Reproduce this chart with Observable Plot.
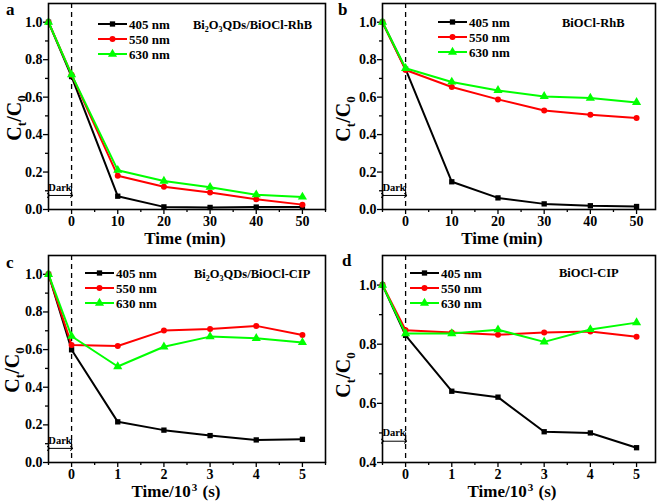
<!DOCTYPE html>
<html><head><meta charset="utf-8">
<script src="https://cdn.jsdelivr.net/npm/d3@7"></script>
<script src="https://cdn.jsdelivr.net/npm/@observablehq/plot@0.6"></script>
<style>
body{margin:0;background:#fff;}
#root{position:relative;width:661px;height:502px;overflow:hidden;background:#fff;}
.panel{position:absolute;}
</style></head><body><div id="root"></div>
<script>
// ---- data ----
const timeMin = [-5, 0, 10, 20, 30, 40, 50];
const timeKs = [-0.5, 0, 1, 2, 3, 4, 5];
const seriesNames = ["405 nm", "550 nm", "630 nm"];
const seriesColors = ["#000000", "#ff0000", "#00ff00"];
const seriesSymbols = ["square", "circle", "triangle"];

const a405 = [1.0, 0.71, 0.071, 0.014, 0.011, 0.013, 0.013];
const a550 = [1.0, 0.72, 0.18, 0.121, 0.091, 0.055, 0.026];
const a630 = [1.0, 0.72, 0.21, 0.152, 0.119, 0.079, 0.067];

const b405 = [1.0, 0.749, 0.148, 0.062, 0.03, 0.02, 0.016];
const b550 = [1.0, 0.745, 0.654, 0.588, 0.529, 0.506, 0.488];
const b630 = [1.0, 0.754, 0.681, 0.636, 0.604, 0.595, 0.572];

const c405 = [1.0, 0.599, 0.216, 0.172, 0.143, 0.12, 0.123];
const c550 = [1.0, 0.624, 0.619, 0.701, 0.71, 0.726, 0.678];
const c630 = [1.0, 0.671, 0.51, 0.615, 0.669, 0.66, 0.638];

const d405 = [1.0, 0.83, 0.641, 0.621, 0.504, 0.5, 0.45];
const d550 = [1.0, 0.847, 0.84, 0.832, 0.84, 0.843, 0.825];
const d630 = [1.0, 0.836, 0.836, 0.849, 0.808, 0.85, 0.873];

const ticksMinMajor = [0, 10, 20, 30, 40, 50];
const ticksMinMinor = [-5, 5, 15, 25, 35, 45, 55];
const ticksKsMajor = [0, 1, 2, 3, 4, 5];
const ticksKsMinor = [-0.5, 0.5, 1.5, 2.5, 3.5, 4.5, 5.5];
const ticksYMajor = [0, 0.2, 0.4, 0.6, 0.8, 1.0];
const ticksYMinor = [0.1, 0.3, 0.5, 0.7, 0.9];
const ticksYMajorD = [0.4, 0.6, 0.8, 1.0];
const ticksYMinorD = [0.5, 0.7, 0.9];

const FONT = '"Liberation Serif", "Times New Roman", serif';

const panels = [
  {letter: "a", left: 0, top: 0, width: 330, height: 250, m: [3, 5, 41, 48],
   xs: timeMin, vals: [a405, a550, a630], xDomain: [-5, 55], yDomain: [0, 1.1],
   xMajor: ticksMinMajor, xMinor: ticksMinMinor, yMajor: ticksYMajor, yMinor: ticksYMinor,
   dark: {x1: -5, x2: 0, y: 0.075, yb1: 0.068, yb2: 0.12, yt: 0.118},
   title: [["Bi", 0], ["2", 1], ["O", 0], ["3", 1], ["QDs/BiOCl-RhB", 0]], titlePos: [193, 29],
   xlabel: [["Time (min)", 0]], xlabelPos: [185, 244], ylabelPos: [21, 118],
   legendPos: [98, 24], letterPos: [6, 15]},
  {letter: "b", left: 330, top: 0, width: 331, height: 250, m: [3, 6, 41, 52],
   xs: timeMin, vals: [b405, b550, b630], xDomain: [-5, 54.1], yDomain: [0, 1.1],
   xMajor: ticksMinMajor, xMinor: ticksMinMinor.filter(d => d < 54), yMajor: ticksYMajor, yMinor: ticksYMinor,
   dark: {x1: -5, x2: 0, y: 0.075, yb1: 0.068, yb2: 0.12, yt: 0.118},
   title: [["BiOCl-RhB", 0]], titlePos: [232, 27],
   xlabel: [["Time (min)", 0]], xlabelPos: [172, 244], ylabelPos: [20, 119],
   legendPos: [108, 22], letterPos: [8, 15]},
  {letter: "c", left: 0, top: 250, width: 330, height: 252, m: [5, 5, 40, 48],
   xs: timeKs, vals: [c405, c550, c630], xDomain: [-0.5, 5.5], yDomain: [0, 1.1],
   xMajor: ticksKsMajor, xMinor: ticksKsMinor, yMajor: ticksYMajor, yMinor: ticksYMinor,
   dark: {x1: -0.5, x2: 0, y: 0.075, yb1: 0.068, yb2: 0.12, yt: 0.118},
   title: [["Bi", 0], ["2", 1], ["O", 0], ["3", 1], ["QDs/BiOCl-CIP", 0]], titlePos: [194, 28],
   xlabel: [["Time/10", 0], ["3", 2], [" (s)", 0]], xlabelPos: [176, 247], ylabelPos: [19, 120],
   legendPos: [85, 23], letterPos: [6, 18]},
  {letter: "d", left: 330, top: 250, width: 331, height: 252, m: [5, 6, 40, 52],
   xs: timeKs, vals: [d405, d550, d630], xDomain: [-0.5, 5.41], yDomain: [0.4, 1.1],
   xMajor: ticksKsMajor, xMinor: ticksKsMinor.filter(d => d < 5.4), yMajor: ticksYMajorD, yMinor: ticksYMinorD,
   dark: {x1: -0.5, x2: 0, y: 0.472, yb1: 0.467, yb2: 0.5, yt: 0.502},
   title: [["BiOCl-CIP", 0]], titlePos: [229, 27],
   xlabel: [["Time/10", 0], ["3", 2], [" (s)", 0]], xlabelPos: [182, 247], ylabelPos: [20, 125],
   legendPos: [80, 23], letterPos: [12, 16]}
];

function appendRich(sel, parts, size) {
  // parts: [text, kind] kind 0 normal, 1 subscript, 2 superscript
  let shift = 0;
  let prevSup = false;
  parts.forEach(([t, k]) => {
    const target = k === 1 ? Math.round(size * 0.25) : k === 2 ? -Math.round(size * 0.35) : 0;
    const ts = sel.append("tspan").text(t).attr("dy", target - shift);
    if (k) ts.attr("font-size", Math.round(size * 0.65));
    if (k === 2 || prevSup) ts.attr("dx", 1);
    prevSup = k === 2;
    shift = target;
  });
}

const root = d3.select("#root");

panels.forEach(p => {
  const rows = [];
  p.vals.forEach((vs, s) => vs.forEach((v, i) => rows.push({x: p.xs[i], y: v, s})));
  const txt = {fontFamily: FONT, fontWeight: "bold", fill: "black"};
  const marks = [
    Plot.ruleX([0], {stroke: "black", strokeWidth: 1.3, strokeDasharray: "5,4"}),
    Plot.axisX({ticks: p.xMajor, tickSize: 5, tickPadding: 2, label: null, tickFormat: d => String(d),
      fontSize: 14, ...txt, strokeWidth: 1.3}),
    Plot.axisX({ticks: p.xMinor, tickSize: 3, label: null, tickFormat: () => "", strokeWidth: 1.3}),
    Plot.axisY({ticks: p.yMajor, tickSize: 5, tickPadding: 1, label: null, tickFormat: d3.format(".1f"),
      fontSize: 14, ...txt, strokeWidth: 1.3}),
    Plot.axisY({ticks: p.yMinor, tickSize: 3, label: null, tickFormat: () => "", strokeWidth: 1.3}),
    Plot.link([p.dark], {x1: "x1", x2: "x2", y1: "y", y2: "y", stroke: "black", strokeWidth: 1,
      markerStart: "arrow", markerEnd: "arrow"}),
    Plot.ruleX([p.dark.x1, p.dark.x2], {y1: p.dark.yb1, y2: p.dark.yb2, stroke: "black", strokeWidth: 1}),
    Plot.text([p.dark], {x: d => (d.x1 + d.x2) / 2, y: "yt", text: () => "Dark", fontSize: 10.5, ...txt})
  ];
  [0, 1, 2].forEach(s => {
    const data = rows.filter(r => r.s === s);
    marks.push(Plot.line(data, {x: "x", y: "y", stroke: seriesColors[s], strokeWidth: 2}));
    marks.push(Plot.dot(data, {x: "x", y: "y", fill: seriesColors[s], stroke: "none",
      symbol: () => seriesSymbols[s], r: s === 2 ? 3.4 : 3}));
  });
  marks.push(Plot.frame({stroke: "black", strokeWidth: 1.6}));

  const chart = Plot.plot({
    width: p.width, height: p.height,
    marginTop: p.m[0], marginRight: p.m[1], marginBottom: p.m[2], marginLeft: p.m[3],
    x: {domain: p.xDomain},
    y: {domain: p.yDomain},
    style: {fontFamily: FONT, color: "black", background: "transparent", overflow: "visible"},
    marks
  });
  const div = root.append("div").attr("class", "panel")
    .style("left", p.left + "px").style("top", p.top + "px");
  div.node().appendChild(chart);
  const svg = d3.select(chart);
  const g = svg.append("g").attr("font-family", FONT).attr("font-weight", "bold")
    .attr("fill", "black").attr("text-anchor", "start");

  // panel letter
  g.append("text").attr("x", p.letterPos[0]).attr("y", p.letterPos[1]).attr("font-size", 17).text(p.letter);

  // y label
  const yl = g.append("text").attr("transform", `translate(${p.ylabelPos[0]},${p.ylabelPos[1]}) rotate(-90)`)
    .attr("text-anchor", "middle").attr("font-size", 20);
  appendRich(yl, [["C", 0], ["t", 1], ["/C", 0], ["0", 1]], 20);

  // x label
  const xl = g.append("text").attr("x", p.xlabelPos[0]).attr("y", p.xlabelPos[1])
    .attr("text-anchor", "middle").attr("font-size", 17);
  appendRich(xl, p.xlabel, 17);

  // title
  const tl = g.append("text").attr("x", p.titlePos[0]).attr("y", p.titlePos[1]).attr("font-size", 12.5);
  appendRich(tl, p.title, 12.5);

  // legend
  const [lx, ly] = p.legendPos;
  seriesNames.forEach((name, s) => {
    const y = ly + s * 15;
    const lg = g.append("g");
    lg.append("line").attr("x1", lx).attr("x2", lx + 29).attr("y1", y).attr("y2", y)
      .attr("stroke", seriesColors[s]).attr("stroke-width", 2);
    lg.append("path").attr("transform", `translate(${lx + 14.5},${y})`)
      .attr("d", d3.symbol(s === 0 ? d3.symbolSquare : s === 1 ? d3.symbolCircle : d3.symbolTriangle, s === 2 ? 36 : 28)())
      .attr("fill", seriesColors[s]);
    lg.append("text").attr("x", lx + 31).attr("y", y).attr("dy", "0.35em").attr("font-size", 13).text(name);
  });
});
</script>
</body></html>
